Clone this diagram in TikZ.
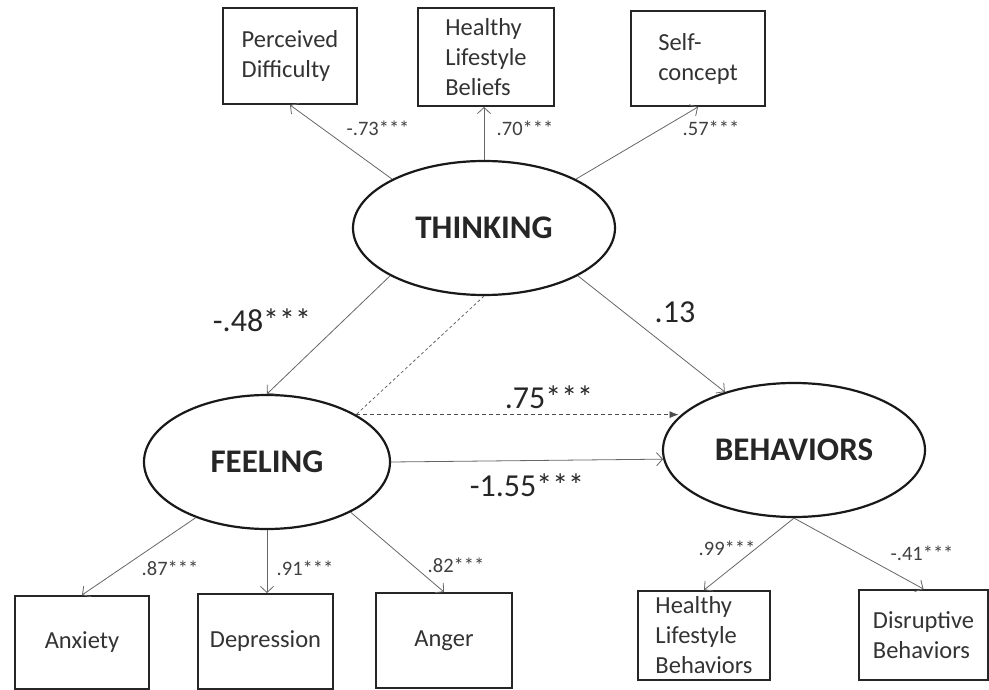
\documentclass[tikz,border=0pt]{standalone}
\usepackage{fontspec}
\setmainfont{Carlito}
\usetikzlibrary{shapes.geometric,arrows.meta}
\begin{document}
\begin{tikzpicture}[x=1pt,y=-1pt,
  latent/.style={ellipse,draw=black!90,line width=2.2pt,minimum width=262pt,minimum height=134pt,inner sep=0pt,font=\fontsize{33}{38}\selectfont\bfseries,text=black!85},
  obs/.style={rectangle,draw=black!85,line width=2pt,inner sep=0pt,align=left,font=\fontsize{24.5}{30}\selectfont,text=black!80},
  pathar/.style={draw=black!60,line width=0.8pt,-{Straight Barb[length=6pt,width=13pt]}},
  dotline/.style={draw=black!60,line width=0.8pt,dash pattern=on 3pt off 2.5pt},
  dasharr/.style={draw=black!70,line width=0.8pt,dash pattern=on 4pt off 3pt,-{Latex[length=9pt,width=7pt]}},
  lbl/.style={font=\fontsize{20.5}{24}\selectfont,text=black!75,inner sep=0pt},
  biglbl/.style={font=\fontsize{32}{38}\selectfont,text=black!85,inner sep=0pt}
]
\useasboundingbox (0,0) rectangle (989,690);
% observed indicators (top)
\node[obs,minimum width=134pt,minimum height=96pt] (perc) at (290,56) {Perceived\\Difficulty};
\node[obs,minimum width=136pt,minimum height=98pt] (hlbel) at (486,57) {Healthy\\Lifestyle\\Beliefs};
\node[obs,minimum width=134pt,minimum height=95pt] (selfc) at (698,58.5) {Self-\\concept};
% latent variables
\node[latent] (think) at (484,228) {THINKING};
\node[latent,minimum width=246pt] (feel) at (267,462) {FEELING};
\node[latent] (beh) at (794,450) {BEHAVIORS};
% observed indicators (bottom)
\node[obs,minimum width=134pt,minimum height=93pt] (anx) at (82,642.5) {Anxiety};
\node[obs,minimum width=135pt,minimum height=95pt] (dep) at (265.5,641.5) {Depression};
\node[obs,minimum width=136pt,minimum height=95pt] (ang) at (444,640.5) {Anger};
\node[obs,minimum width=132pt,minimum height=89pt] (hlbeh) at (704,635.5) {Healthy\\Lifestyle\\Behaviors};
\node[obs,minimum width=129pt,minimum height=90pt] (disr) at (923.5,635) {Disruptive\\Behaviors};
% connectors
\draw[pathar] (think.152) -- (perc.south);
\draw[pathar] (think.north) -- (think.north |- hlbel.south);
\draw[pathar] (think.28) -- (selfc.south);
\draw[pathar] (think.207) -- (feel.north);
\draw[pathar] (think.333) -- (beh.140);
\draw[dotline] (think.south) -- (feel.28);
\draw[dasharr] (feel.28) -- (feel.28 -| beh.164);
\draw[pathar] (feel.east) -- (beh.184);
\draw[pathar] (feel.218) -- (anx.north);
\draw[pathar] (feel.south) -- (feel.south |- dep.north);
\draw[pathar] (feel.329) -- (ang.north);
\draw[pathar] (beh.south) -- (hlbeh.north);
\draw[pathar] (beh.south) -- (disr.north);
% labels
\node[lbl] (l73) at (378,128) {-.73***};
\node[lbl] (l70) at (525,128) {.70***};
\node[lbl] (l57) at (711,128) {.57***};
\node[biglbl] (l48) at (262,320) {-.48***};
\node[biglbl] (l13) at (675,312) {.13};
\node[biglbl] (l75) at (549,397) {.75***};
\node[biglbl] (l155) at (527,485) {-1.55***};
\node[lbl] (l87) at (170,568) {.87***};
\node[lbl] (l91) at (305,568) {.91***};
\node[lbl] (l82) at (456,565) {.82***};
\node[lbl] (l99) at (727,548) {.99***};
\node[lbl] (l41) at (922,553) {-.41***};
\end{tikzpicture}
\end{document}
